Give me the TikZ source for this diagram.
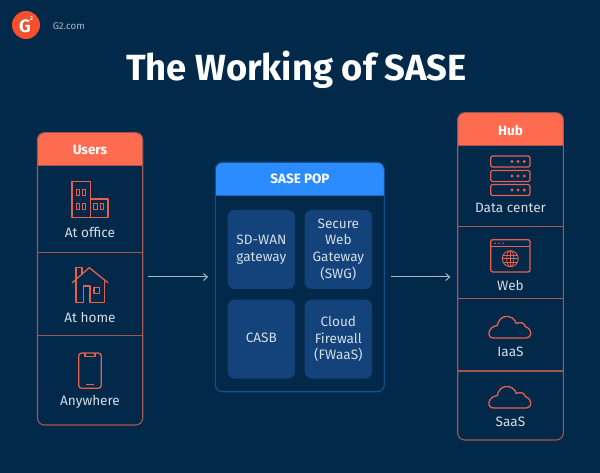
\documentclass[tikz,border=0pt]{standalone}
\usepackage{fontspec}
\setmainfont{Fira Sans}
\usepackage{tikz}
\usetikzlibrary{arrows.meta,calc}
\definecolor{pagebg}{HTML}{03294A}
\definecolor{coral}{HTML}{FF6B4F}
\definecolor{coraldim}{HTML}{A3564F}
\definecolor{iconred}{HTML}{E5604D}
\definecolor{logored}{HTML}{F4502D}
\definecolor{popblue}{HTML}{2A8CFF}
\definecolor{popline}{HTML}{14518F}
\definecolor{popcell}{HTML}{13437A}
\definecolor{softtext}{HTML}{D3DCE4}
\definecolor{flowgrey}{HTML}{A9B7C4}
\tikzset{
    panel/.style={draw,line width=1.1pt,rounded corners=7pt,inner sep=0pt},
    cellline/.style={draw=coraldim,line width=1.1pt},
    headtext/.style={text=white,font=\fontsize{13.5}{15}\selectfont\bfseries,inner sep=0pt},
    itemtext/.style={text=softtext,font=\fontsize{13.6}{16}\selectfont,inner sep=0pt,align=center},
    popcellbox/.style={fill=popcell,rounded corners=7pt,minimum width=67.3pt,minimum height=79pt,inner sep=0pt,text=softtext,font=\fontsize{13.6}{16.7}\selectfont,align=center},
    icon/.style={draw=iconred,line width=1.3pt,line join=round,fill=none},
    flow/.style={draw=flowgrey,line width=1pt,-{Straight Barb[length=4pt,width=7pt]}}
}
\def\headerbar#1#2#3#4#5{\fill[#5] (#1,#3) {[rounded corners=7pt] -- (#1,#4) -- (#2,#4)} -- (#2,#3) -- cycle;}
\def\cloudicon#1#2{
    \draw[icon,shift={(#1,#2)}] (5.5,0) -- (38,0)
        .. controls (43,0) and (45.5,-8) .. (37,-11.5)
        .. controls (36.5,-15) and (32,-16.5) .. (28,-14.5)
        .. controls (25,-24) and (11,-24.5) .. (9,-12.5)
        .. controls (-1,-11) and (-2,0) .. (5.5,0) -- cycle;
}
\def\serverrow#1{
    \draw[icon,rounded corners=1.5pt] (490.7,#1) rectangle (530,#1+11);
    \foreach \dotx in {512,518,524.3}
        \fill[iconred] (\dotx,#1+5.5) circle (1.6pt);
}
\begin{document}
\begin{tikzpicture}[x=1pt,y=-1pt]
    \useasboundingbox (0,0) rectangle (600,473);
    \fill[pagebg] (0,0) rectangle (600,473);

    % logo and title
    \fill[logored] (26,25) circle (14pt);
    \node[text=white,inner sep=0pt,font=\fontsize{18}{18}\selectfont\bfseries] (logog) at (25,26.5) {G};
    \node[text=white,inner sep=0pt,font=\fontsize{5.5}{6}\selectfont\bfseries] (logotwo) at (31.5,18.5) {2};
    \node[text=flowgrey,inner sep=0pt,anchor=west,font=\fontsize{9.8}{11}\selectfont] (site) at (52.7,26) {G2.com};
    \node[text=white,inner sep=0pt,font=\fontsize{36.4}{40}\selectfont\bfseries] (title) at (296.5,70) {The Working of SASE};

    % users
    \headerbar{37.5}{142.7}{165.7}{132.7}{coral}
    \node[panel,draw=coraldim,minimum width=105.2pt,minimum height=292.3pt] (users) at (90.1,278.85) {};
    \node[headtext] (usershead) at (90,150) {Users};
    \draw[cellline] (users.west |- 0,165.7) -- (users.east |- 0,165.7);
    \draw[cellline] (users.west |- 0,252.3) -- (users.east |- 0,252.3);
    \draw[cellline] (users.west |- 0,335.7) -- (users.east |- 0,335.7);
    \node[itemtext] (office) at (90,232.7) {At office};
    \node[itemtext] (home) at (90,317.7) {At home};
    \node[itemtext] (anywhere) at (90,401.7) {Anywhere};

    % office icon
    \draw[icon] (72,181.7) rectangle (90.3,217.3);
    \draw[icon] (90.3,199) -- (108,199) -- (108,217.3) -- (90.3,217.3);
    \foreach \winx in {76,82.3} {
        \draw[icon,line width=1pt] (\winx,190) rectangle (\winx+3.6,196);
        \draw[icon,line width=1pt] (\winx,203.5) rectangle (\winx+3.6,210);
    }
    \foreach \winx in {93.5,100} {
        \draw[icon,line width=1pt] (\winx,203.5) rectangle (\winx+3.6,210);
    }

    % house icon
    \draw[icon,line cap=round] (72.3,282.7) -- (89.3,267.7) -- (108,282.7);
    \draw[icon] (76,279.4) -- (76,267.7) -- (82,267.7) -- (82,274.1);
    \draw[icon] (76,279.4) -- (76,302.7) -- (83.3,302.7) -- (83.3,286) -- (90,286) -- (90,302.7) -- (104.7,302.7) -- (104.7,279);
    \draw[icon] (94,287.3) rectangle (99.7,293.3);

    % phone icon
    \draw[icon,rounded corners=3pt] (78.7,353) rectangle (101.3,388.3);
    \draw[icon] (85,353) -- (85,356.3) -- (95,356.3) -- (95,353);
    \draw[icon] (86,384.7) -- (94,384.7);

    % sase pop
    \headerbar{215.3}{384.3}{195.7}{162.3}{popblue}
    \node[panel,draw=popline,minimum width=169pt,minimum height=229.4pt] (sase) at (299.8,277) {};
    \node[headtext] (sasehead) at (300,179) {SASE POP};
    \node[popcellbox] (sdwan) at (261.35,249.5) {\raisebox{2pt}{SD-WAN}\\\raisebox{2pt}{gateway}};
    \node[popcellbox] (swg) at (338.35,249.5) {Secure\\Web\\Gateway\\(SWG)};
    \node[popcellbox] (casb) at (261.35,339) {\raisebox{3pt}{CASB}};
    \node[popcellbox] (fwaas) at (338.35,339) {Cloud\\Firewall\\(FWaaS)};

    % hub
    \headerbar{457.7}{563.3}{145.7}{112.7}{coral}
    \node[panel,draw=coraldim,minimum width=105.6pt,minimum height=327.3pt] (hub) at (510.5,276.35) {};
    \node[headtext] (hubhead) at (510.5,130) {Hub};
    \draw[cellline] (hub.west |- 0,145.7) -- (hub.east |- 0,145.7);
    \draw[cellline] (hub.west |- 0,226.7) -- (hub.east |- 0,226.7);
    \draw[cellline] (hub.west |- 0,298.7) -- (hub.east |- 0,298.7);
    \draw[cellline] (hub.west |- 0,371) -- (hub.east |- 0,371);
    \node[itemtext] (datacenter) at (510.5,208.3) {Data center};
    \node[itemtext] (web) at (510.5,285) {Web};
    \node[itemtext] (iaas) at (510.5,352.3) {IaaS};
    \node[itemtext] (saas) at (510.5,421.7) {SaaS};

    % server icon
    \serverrow{156}
    \serverrow{170.5}
    \serverrow{184.5}

    % browser icon
    \draw[icon,rounded corners=2pt] (490.7,239.7) rectangle (530,272);
    \draw[icon,line width=1pt] (490.7,246.7) -- (530,246.7);
    \foreach \dotx in {495,499,503}
        \fill[iconred] (\dotx,243.3) circle (.8pt);
    \draw[icon,line width=.9pt] (510.3,258.7) circle (8pt);
    \draw[icon,line width=.7pt] (510.3,258.7) ellipse (3.6pt and 8pt);
    \draw[icon,line width=.7pt] (502.3,258.7) -- (518.3,258.7);
    \draw[icon,line width=.7pt] (503.2,255) -- (517.4,255);
    \draw[icon,line width=.7pt] (503.2,262.4) -- (517.4,262.4);
    \draw[icon,line width=.7pt] (510.3,250.7) -- (510.3,266.7);

    % clouds
    \cloudicon{488.3}{338}
    \cloudicon{488.3}{408}

    % connectors
    \draw[flow,shorten <=4.6pt,shorten >=6.6pt] (sase.west -| users.east) -- (sase.west);
    \draw[flow,shorten <=5.7pt,shorten >=6.7pt] (sase.east) -- (sase.east -| hub.west);
\end{tikzpicture}
\end{document}
